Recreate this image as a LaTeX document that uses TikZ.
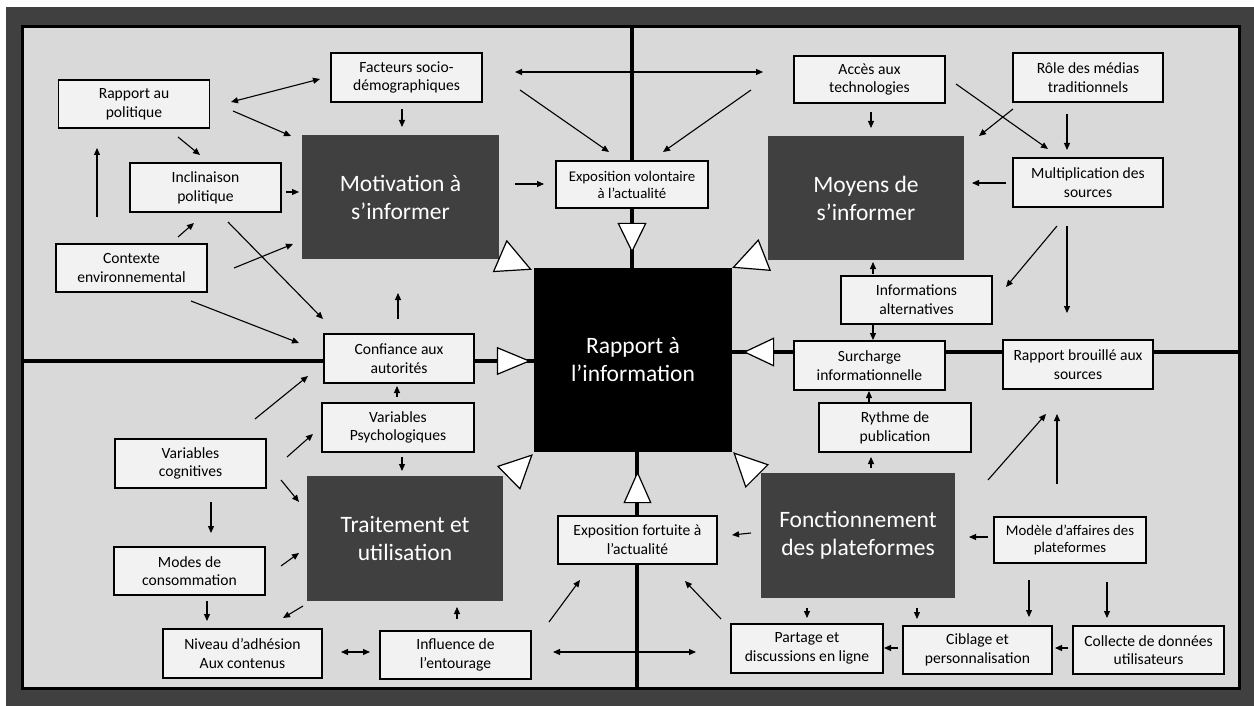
\documentclass[tikz,border=0pt]{standalone}
\usepackage{fontspec}
\setmainfont{Carlito}
\usetikzlibrary{arrows.meta}
\definecolor{darkbg}{HTML}{404040}
\definecolor{panel}{HTML}{D9D9D9}
\definecolor{boxfill}{HTML}{F2F2F2}
\begin{document}
\begin{tikzpicture}[x=1pt,y=-1pt,
  sbox/.style 2 args={draw=black, line width=1.2pt, fill=boxfill, minimum width=#1pt, minimum height=#2pt, inner sep=0pt, align=center, font=\fontsize{15.6}{18.7}\selectfont},
  ssmall/.style={font=\fontsize{14.8}{17}\selectfont},
  dbox/.style 2 args={fill=darkbg, minimum width=#1pt, minimum height=#2pt, inner sep=0pt, align=center, text=white, font=\fontsize{23.5}{28}\selectfont},
  arr/.style={line width=1.1pt, -{Triangle[length=7pt,width=6pt]}},
  darr/.style={line width=1.1pt, {Triangle[length=7pt,width=6pt]}-{Triangle[length=7pt,width=6pt]}},
  bigtri/.style 2 args={line width=1.2pt, -{Triangle[length=#1pt,width=#2pt,fill=white]}},
  panelbox/.style={fill=panel, draw=black, line width=3pt},
  divider/.style={draw=black, line width=4.5pt}
]
\useasboundingbox (0,0) rectangle (1254,706);
\fill[white] (0,0) rectangle (1254,706);
\fill[darkbg] (6,7) rectangle (1254,706);
\draw[panelbox] (22,27) rectangle (632,361);
\draw[panelbox] (632,27) rectangle (1239,352);
\draw[panelbox] (22,361) rectangle (637,688);
\draw[panelbox] (637,352) rectangle (1239,688);
\coordinate (hL) at (22,361);
\coordinate (hR) at (1239,352);
\draw[divider] (632,27) -- (632,361);
\draw[divider] (637,352) -- (637,688);
\draw[divider] (hL) -- (637,361);
\draw[divider] (632,352) -- (hR);

% top-left
\node[sbox={151}{48}] (rp) at (134,104) {Rapport au\\politique};
\node[sbox={151}{49}] (fs) at (406.5,77.5) {Facteurs socio-\\démographiques};
\node[sbox={151}{49}] (ip) at (205.5,187.5) {Inclinaison\\politique};
\node[sbox={151}{48}] (ce) at (131.5,268) {Contexte\\environnemental};
\node[dbox={197}{124}] (mot) at (400.5,197) {Motivation à\\s’informer};
\node[sbox={150}{49}] (conf) at (399,358.5) {Confiance aux\\autorités};
\node[sbox={152}{47},ssmall] (expv) at (632,184.5) {Exposition volontaire\\à l’actualité};
% top-right
\node[sbox={151}{47}] (acc) at (869.5,79.5) {Accès aux\\technologies};
\node[sbox={150}{49}] (rm) at (1088,77.5) {Rôle des médias\\traditionnels};
\node[sbox={150}{49}] (ms) at (1088,182.5) {Multiplication des\\sources};
\node[dbox={196}{124}] (moy) at (866,198) {Moyens de\\s’informer};
\node[sbox={151}{48}] (ia) at (916.5,300) {Informations\\alternatives};
\node[sbox={151}{49}] (sur) at (869.5,365.5) {Surcharge\\informationnelle};
\node[sbox={150}{49}] (rb) at (1078,364.5) {Rapport brouillé aux\\sources};
% centre
\node[dbox={198}{184}, fill=black] (rap) at (633,360) {Rapport à\\l’information};
% bottom-right
\node[sbox={152}{49}] (ry) at (895,427.5) {Rythme de\\publication};
\node[dbox={194}{125}] (fon) at (858,535.5) {Fonctionnement\\des plateformes};
\node[sbox={152}{46},ssmall] (ma) at (1070,540) {Modèle d’affaires des\\plateformes};
\node[sbox={152}{49}] (pd) at (807,648.5) {Partage et\\discussions en ligne};
\node[sbox={149}{48}] (cp) at (977.5,650) {Ciblage et\\personnalisation};
\node[sbox={151}{48}] (cd) at (1148.5,650) {Collecte de données\\utilisateurs};
\node[sbox={159}{48}] (expf) at (637.5,540) {Exposition fortuite à\\l’actualité};
% bottom-left
\node[sbox={152}{49}] (vp) at (398,427.5) {Variables\\Psychologiques};
\node[dbox={196}{125}] (tu) at (405,538.5) {Traitement et\\utilisation};
\node[sbox={151}{49}] (vc) at (190.5,463.5) {Variables\\cognitives};
\node[sbox={151}{48}] (mc) at (189.5,571) {Modes de\\consommation};
\node[sbox={159}{49}] (na) at (242.5,653.5) {Niveau d’adhésion\\Aux contenus};
\node[sbox={151}{48}] (ie) at (455.5,655) {Influence de\\l’entourage};

% thin connectors
\draw[darr] ([shift={(97,-2)}]rp.center) -- ([shift={(-86.5,1.5)}]fs.center);
\draw[arr] ([shift={(99,7)}]rp.center) -- ([shift={(-109.5,-61)}]mot.center);
\draw[arr] ([shift={(44,33)}]rp.center) -- ([shift={(-5.5,-32.5)}]ip.center);
\draw[arr] ([shift={(-34.5,-51)}]ce.center) -- ([shift={(-37,44)}]rp.center);
\draw[arr] ([shift={(46.5,-31)}]ce.center) -- ([shift={(-11.5,35.5)}]ip.center);
\draw[arr] ([shift={(80.5,4.5)}]ip.center) -- ([shift={(-101.5,-5)}]mot.center);
\draw[arr] ([shift={(102.5,0)}]ce.center) -- ([shift={(-107.5,47)}]mot.center);
\draw[arr] ([shift={(22.5,34.5)}]ip.center) -- ([shift={(-76,-39.5)}]conf.center);
\draw[arr] ([shift={(59.5,33)}]ce.center) -- ([shift={(-100,-15.5)}]conf.center);
\draw[arr] ([shift={(-4.5,31.5)}]fs.center) -- ([shift={(1.5,-70)}]mot.center);
\draw[arr] ([shift={(-1,-39.5)}]conf.center) -- ([shift={(-2.5,96)}]mot.center);
\draw[darr] ([shift={(108.5,-5.5)}]fs.center) -- ([shift={(-106.5,-7.5)}]acc.center);
\draw[arr] ([shift={(113.5,12.5)}]fs.center) -- ([shift={(-23,-32.5)}]expv.center);
\draw[arr] ([shift={(-118.5,10.5)}]acc.center) -- ([shift={(31,-32.5)}]expv.center);
\draw[arr] ([shift={(114.5,-13)}]mot.center) -- ([shift={(-88,-0.5)}]expv.center);
\draw[arr] ([shift={(1.5,32.5)}]acc.center) -- ([shift={(5,-70)}]moy.center);
\draw[arr] ([shift={(86.5,4.5)}]acc.center) -- ([shift={(-40,-33.5)}]ms.center);
\draw[arr] ([shift={(-75,31.5)}]rm.center) -- ([shift={(113,-62)}]moy.center);
\draw[arr] ([shift={(-21,36.5)}]rm.center) -- ([shift={(-21,-32.5)}]ms.center);
\draw[arr] ([shift={(-82,0.5)}]ms.center) -- ([shift={(106,-15)}]moy.center);
\draw[arr] ([shift={(-31,43.5)}]ms.center) -- ([shift={(89.5,-13)}]ia.center);
\draw[arr] ([shift={(-21,43.5)}]ms.center) -- ([shift={(-11,-51.5)}]rb.center);
\draw[arr] ([shift={(-43.5,-26)}]ia.center) -- ([shift={(7,64)}]moy.center);
\draw[arr] ([shift={(-43.5,25)}]ia.center) -- ([shift={(3.5,-25.5)}]sur.center);
\draw[arr] ([shift={(-26,-24.5)}]ry.center) -- ([shift={(-0.5,25.5)}]sur.center);
\draw[arr] ([shift={(13,-67.5)}]fon.center) -- ([shift={(-24,29.5)}]ry.center);
\draw[arr] ([shift={(130,-55.5)}]fon.center) -- ([shift={(-32,49.5)}]rb.center);
\draw[arr] ([shift={(-13,-56)}]ma.center) -- ([shift={(-21,49.5)}]rb.center);
\draw[arr] ([shift={(-82,-3)}]ma.center) -- ([shift={(111,1.5)}]fon.center);
\draw[arr] ([shift={(-41,40)}]ma.center) -- ([shift={(51.5,-33)}]cp.center);
\draw[arr] ([shift={(37,42)}]ma.center) -- ([shift={(-41.5,-32)}]cd.center);
\draw[arr] ([shift={(59,72.5)}]fon.center) -- ([shift={(-60.5,-31)}]cp.center);
\draw[arr] ([shift={(-79.5,-2)}]cp.center) -- ([shift={(77,-0.5)}]pd.center);
\draw[arr] ([shift={(-80.5,-2)}]cd.center) -- ([shift={(77.5,-2)}]cp.center);
\draw[arr] ([shift={(-51,72.5)}]fon.center) -- ([shift={(0,-30.5)}]pd.center);
\draw[arr] ([shift={(-107,-2.5)}]fon.center) -- ([shift={(94.5,-5)}]expf.center);
\draw[arr] ([shift={(-86,-29.5)}]pd.center) -- ([shift={(47.5,41)}]expf.center);
\draw[arr] ([shift={(93.5,-33)}]ie.center) -- ([shift={(-57.5,40)}]expf.center);
\draw[darr] ([shift={(97.5,-3)}]ie.center) -- ([shift={(-111,3.5)}]pd.center);
\draw[arr] ([shift={(1.5,-36)}]ie.center) -- ([shift={(52,68.5)}]tu.center);
\draw[arr] ([shift={(64.5,-44.5)}]vc.center) -- ([shift={(-91,17.5)}]conf.center);
\draw[arr] ([shift={(96.5,-6.5)}]vc.center) -- ([shift={(-85,6.5)}]vp.center);
\draw[arr] ([shift={(90.5,16.5)}]vc.center) -- ([shift={(-106,-36.5)}]tu.center);
\draw[arr] ([shift={(20.5,38.5)}]vc.center) -- ([shift={(21.5,-38)}]mc.center);
\draw[arr] ([shift={(91.5,-5)}]mc.center) -- ([shift={(-106,14.5)}]tu.center);
\draw[arr] ([shift={(17.5,30)}]mc.center) -- ([shift={(-35.5,-32.5)}]na.center);
\draw[arr] ([shift={(-102,67.5)}]tu.center) -- ([shift={(40.5,-35.5)}]na.center);
\draw[darr] ([shift={(98.5,-1.5)}]na.center) -- ([shift={(-85.5,-3)}]ie.center);
\draw[arr] ([shift={(4,29.5)}]vp.center) -- ([shift={(-3,-67.5)}]tu.center);
\draw[arr] ([shift={(-1,-30.5)}]vp.center) -- ([shift={(-2,27.5)}]conf.center);

% big open triangles into the centre
\draw[bigtri={35}{35}] ([shift={(1,-3)}]mot.south east) -- ([shift={(-2,2)}]rap.north west);
\draw[bigtri={35}{34}] ([shift={(-3.5,-5)}]moy.south west) -- (rap.north east);
\draw[bigtri={30}{29}, shorten >=15pt] (expv.south) -- (expv.south |- rap.north);
\draw[bigtri={34}{28}, shorten >=3pt] (conf.east |- hL) -- (rap.west |- hL);
\draw[bigtri={31}{29}, shorten >=11pt] (sur.west |- hR) -- (rap.east |- hR);
\draw[bigtri={34}{33}] ([shift={(5.5,2)}]tu.north east) -- ([shift={(-1,2)}]rap.south west);
\draw[bigtri={34}{33}] ([shift={(-3.5,3.5)}]fon.north west) -- ([shift={(1,0)}]rap.south east);
\draw[bigtri={32}{28}, shorten >=19pt] (expf.north) -- (expf.north |- rap.south);
\end{tikzpicture}
\end{document}
